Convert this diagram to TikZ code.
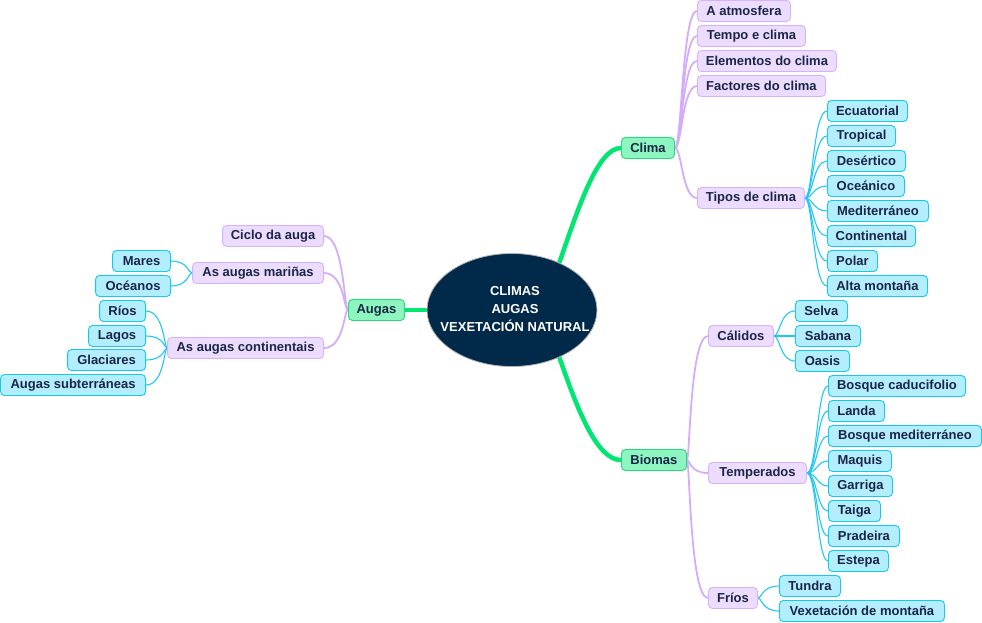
\documentclass[tikz,border=0pt]{standalone}
\usepackage{fontspec}
\setmainfont{Liberation Sans}
\usetikzlibrary{shapes.geometric,backgrounds}
\definecolor{txt}{RGB}{27,38,70}
\definecolor{pfill}{RGB}{236,220,255}
\definecolor{pdraw}{RGB}{214,178,252}
\definecolor{pline}{RGB}{212,172,250}
\definecolor{bfill}{RGB}{178,238,254}
\definecolor{bdraw}{RGB}{20,200,240}
\definecolor{bline}{RGB}{30,200,240}
\definecolor{gfill}{RGB}{140,245,192}
\definecolor{gdraw}{RGB}{40,215,120}
\definecolor{gline}{RGB}{0,230,115}
\definecolor{navy}{RGB}{1,41,74}
\tikzset{
  box/.style={rectangle, rounded corners=4pt, inner sep=0pt, minimum height=21pt, line width=0.9pt, text=txt, font=\bfseries\fontsize{13}{15}\selectfont},
  gbox/.style={box, fill=gfill, draw=gdraw},
  pbox/.style={box, fill=pfill, draw=pdraw},
  bbox/.style={box, fill=bfill, draw=bdraw},
  gconn/.style={draw=gline, line width=4.5pt},
  pconn/.style={draw=pline, line width=1.8pt},
  bconn/.style={draw=bline, line width=1.1pt},
}
% #1 style, #2 parent, #3 child, #4 trunk offset
\newcommand{\rlink}[4]{\path (#2.east) ++(#4,0) coordinate (tmpc);
  \draw[#1] (#2.east) .. controls (tmpc) and (tmpc |- #3.west) .. (#3.west);}
\newcommand{\llink}[4]{\path (#2.west) ++(-#4,0) coordinate (tmpc);
  \draw[#1] (#2.west) .. controls (tmpc) and (tmpc |- #3.east) .. (#3.east);}
\begin{document}
\begin{tikzpicture}[x=1pt,y=-1pt]
\useasboundingbox (0,0) rectangle (982,622);
% central
\node[ellipse, fill=navy, draw=gray!60, line width=0.8pt, minimum width=170pt, minimum height=113pt, inner sep=0pt] (center) at (512,310) {};
\node[align=center, text=white, inner sep=0pt, font=\bfseries\fontsize{13}{18}\selectfont] (ctext) at (515,309) {CLIMAS\\AUGAS\\VEXETACIÓN NATURAL};
% level 1
\node[gbox, anchor=west, minimum width=53pt] (clima) at (621,148) {Clima};
\node[gbox, anchor=west, minimum width=56pt] (augas) at (348,310) {Augas};
\node[gbox, anchor=west, minimum width=65pt] (biomas) at (621,460) {Biomas};
% clima children
\node[pbox, anchor=west, minimum width=93pt] (atm) at (697,11) {A atmosfera};
\node[pbox, anchor=west, minimum width=108pt] (tempo) at (697,36) {Tempo e clima};
\node[pbox, anchor=west, minimum width=139pt] (elem) at (697,61) {Elementos do clima};
\node[pbox, anchor=west, minimum width=128pt] (fact) at (697,86) {Factores do clima};
\node[pbox, anchor=west, minimum width=107pt] (tipos) at (697,198) {Tipos de clima};
% tipos children
\node[bbox, anchor=west, minimum width=80pt] (ecu) at (827,111) {Ecuatorial};
\node[bbox, anchor=west, minimum width=68pt] (trop) at (827,136) {Tropical};
\node[bbox, anchor=west, minimum width=78pt] (des) at (827,161) {Desértico};
\node[bbox, anchor=west, minimum width=77pt] (oce) at (827,186) {Oceánico};
\node[bbox, anchor=west, minimum width=101pt] (med) at (827,211) {Mediterráneo};
\node[bbox, anchor=west, minimum width=88pt] (cont) at (827,236) {Continental};
\node[bbox, anchor=west, minimum width=50pt] (polar) at (827,261) {Polar};
\node[bbox, anchor=west, minimum width=100pt] (alta) at (827,286) {Alta montaña};
% augas children
\node[pbox, anchor=east, minimum width=101pt] (ciclo) at (324,236) {Ciclo da auga};
\node[pbox, anchor=east, minimum width=131pt] (marinas) at (324,273) {As augas mariñas};
\node[pbox, anchor=east, minimum width=156pt] (contin) at (324,348) {As augas continentais};
\node[bbox, anchor=east, minimum width=58pt] (mares) at (171,261) {Mares};
\node[bbox, anchor=east, minimum width=75pt] (oceanos) at (171,286) {Océanos};
\node[bbox, anchor=east, minimum width=46pt] (rios) at (146,311) {Ríos};
\node[bbox, anchor=east, minimum width=57pt] (lagos) at (146,336) {Lagos};
\node[bbox, anchor=east, minimum width=78pt] (glac) at (146,360) {Glaciares};
\node[bbox, anchor=east, minimum width=145pt] (subt) at (146,385) {Augas subterráneas};
% biomas children
\node[pbox, anchor=west, minimum width=65pt] (calidos) at (708,336) {Cálidos};
\node[pbox, anchor=west, minimum width=98pt] (temper) at (708,473) {Temperados};
\node[pbox, anchor=west, minimum width=49pt] (frios) at (708,598) {Fríos};
\node[bbox, anchor=west, minimum width=52pt] (selva) at (795,311) {Selva};
\node[bbox, anchor=west, minimum width=65pt] (sabana) at (795,336) {Sabana};
\node[bbox, anchor=west, minimum width=54pt] (oasis) at (795,361) {Oasis};
\node[bbox, anchor=west, minimum width=137pt] (bcad) at (828,386) {Bosque caducifolio};
\node[bbox, anchor=west, minimum width=56pt] (landa) at (828,411) {Landa};
\node[bbox, anchor=west, minimum width=153pt] (bmed) at (828,436) {Bosque mediterráneo};
\node[bbox, anchor=west, minimum width=63pt] (maquis) at (828,461) {Maquis};
\node[bbox, anchor=west, minimum width=64pt] (garriga) at (828,486) {Garriga};
\node[bbox, anchor=west, minimum width=52pt] (taiga) at (828,511) {Taiga};
\node[bbox, anchor=west, minimum width=71pt] (pradeira) at (828,536) {Pradeira};
\node[bbox, anchor=west, minimum width=60pt] (estepa) at (828,561) {Estepa};
\node[bbox, anchor=west, minimum width=61pt] (tundra) at (779,586) {Tundra};
\node[bbox, anchor=west, minimum width=165pt] (vmont) at (779,611) {Vexetación de montaña};
% connectors
\begin{pgfonlayer}{background}
\draw[gconn] (center.45) .. controls +(20,-58) and +(-23,0) .. (clima.west);
\draw[gconn] (center.-45) .. controls +(20,58) and +(-23,0) .. (biomas.west);
\draw[gconn] (augas.east) -- (center.west);
\foreach \c in {atm,tempo,elem,fact,tipos}{\rlink{pconn}{clima}{\c}{7}}
\foreach \c in {ecu,trop,des,oce,med,cont,polar,alta}{\rlink{bconn}{tipos}{\c}{8}}
\foreach \c in {ciclo,marinas,contin}{\llink{pconn}{augas}{\c}{4}}
\foreach \c in {mares,oceanos}{\llink{bconn}{marinas}{\c}{4}}
\foreach \c in {rios,lagos,glac,subt}{\llink{bconn}{contin}{\c}{3}}
\foreach \c in {calidos,temper,frios}{\rlink{pconn}{biomas}{\c}{3}}
\foreach \c in {selva,sabana,oasis}{\rlink{bconn}{calidos}{\c}{6}}
\foreach \c in {bcad,landa,bmed,maquis,garriga,taiga,pradeira,estepa}{\rlink{bconn}{temper}{\c}{10}}
\foreach \c in {tundra,vmont}{\rlink{bconn}{frios}{\c}{4}}
\end{pgfonlayer}
\end{tikzpicture}
\end{document}
